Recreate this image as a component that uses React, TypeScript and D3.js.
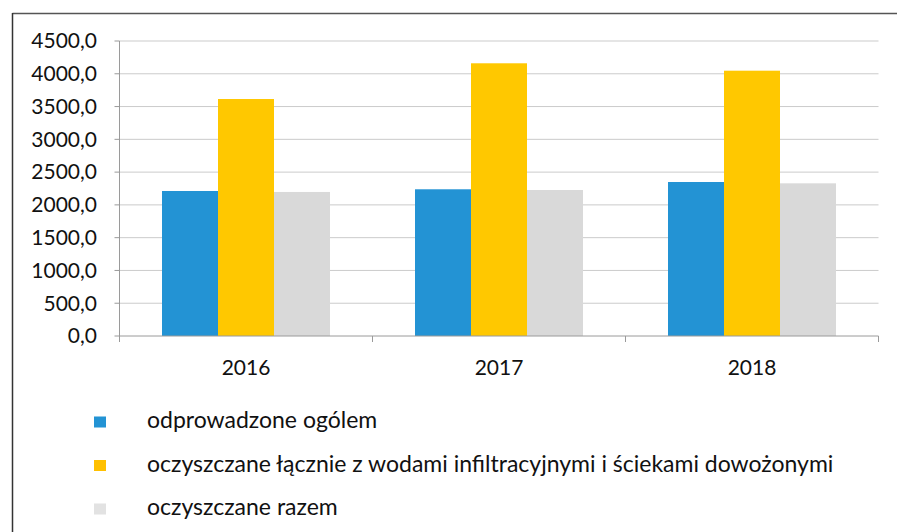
import React from "react";
import * as d3 from "d3";

const years = ["2016", "2017", "2018"];
const seriesNames = [
  "odprowadzone ogólem",
  "oczyszczane łącznie z wodami infiltracyjnymi i ściekami dowożonymi",
  "oczyszczane razem",
];
const odprowadzone = [2212, 2238, 2349];
const oczyszczaneLacznie = [3615, 4160, 4047];
const oczyszczaneRazem = [2197, 2227, 2329];
const yTicks = [0, 500, 1000, 1500, 2000, 2500, 3000, 3500, 4000, 4500];
const colors = ["#2393d4", "#ffc800", "#d9d9d9"];
const legendColors = ["#2393d4", "#ffc000", "#e2e2e2"];

const W = 897;
const H = 532;
const FONT = "Lato, 'Open Sans', sans-serif";

export default function App() {
  const series = [odprowadzone, oczyszczaneLacznie, oczyszczaneRazem];
  const x0 = 119.5;
  const x1 = 878.5;
  const x = d3.scaleBand<string>().domain(years).range([x0, x1]).paddingInner(0.336).paddingOuter(0.168);
  const xs = d3
    .scaleBand<number>()
    .domain(d3.range(series.length))
    .range([0, x.bandwidth()])
    .padding(0);
  const y = d3.scaleLinear().domain([0, 4500]).range([336, 41]);
  const step = x.step();
  const fmt = (v: number) => d3.format(".1f")(v).replace(".", ",");

  return (
    <svg
      width={W}
      height={H}
      style={{ position: "absolute", left: 0, top: 0, background: "#fff" }}
      fontFamily={FONT}
    >
      <rect x={0} y={0} width={W} height={H} fill="#fff" />
      {/* frame */}
      <line x1={12.5} x2={W} y1={13.5} y2={13.5} stroke="#555" strokeWidth={1.5} />
      <line x1={12.5} x2={12.5} y1={13} y2={H} stroke="#333" strokeWidth={1.5} />

      {/* gridlines */}
      {yTicks.filter((t) => t > 0).map((t) => (
        <line key={t} x1={x0} x2={x1} y1={y(t)} y2={y(t)} stroke="#cbcbcb" strokeWidth={1} />
      ))}
      {/* y axis */}
      <line x1={x0} x2={x0} y1={y(4500)} y2={y(0)} stroke="#9a9a9a" strokeWidth={1} />
      {yTicks.map((t) => (
        <g key={t}>
          <line x1={x0 - 5} x2={x0} y1={y(t)} y2={y(t)} stroke="#9a9a9a" />
          <text x={97} y={y(t)} dy="0.35em" textAnchor="end" fontSize={21} fill="#111">
            {fmt(t)}
          </text>
        </g>
      ))}

      {/* bars */}
      {years.map((yr, i) => (
        <g key={yr} transform={`translate(${x(yr)},0)`}>
          {series.map((s, k) => (
            <rect
              key={k}
              x={xs(k)}
              y={y(s[i])}
              width={xs.bandwidth()}
              height={y(0) - y(s[i])}
              fill={colors[k]}
            />
          ))}
        </g>
      ))}

      {/* x axis */}
      <line x1={x0} x2={x1} y1={y(0)} y2={y(0)} stroke="#9a9a9a" strokeWidth={1} />
      {d3.range(years.length + 1).map((i) => (
        <line
          key={i}
          x1={x0 + i * step}
          x2={x0 + i * step}
          y1={y(0)}
          y2={y(0) + 6}
          stroke="#9a9a9a"
        />
      ))}
      {years.map((yr) => (
        <text
          key={yr}
          x={(x(yr) as number) + x.bandwidth() / 2}
          y={375}
          textAnchor="middle"
          fontSize={21}
          fill="#111"
        >
          {yr}
        </text>
      ))}

      {/* legend */}
      {seriesNames.map((name, k) => (
        <g key={name} transform={`translate(0,${428 + k * 43.5})`}>
          <rect x={94} y={-11.5} width={12} height={11} fill={legendColors[k]} />
          <text x={147} y={0} fontSize={23} fill="#111">
            {name}
          </text>
        </g>
      ))}
    </svg>
  );
}
